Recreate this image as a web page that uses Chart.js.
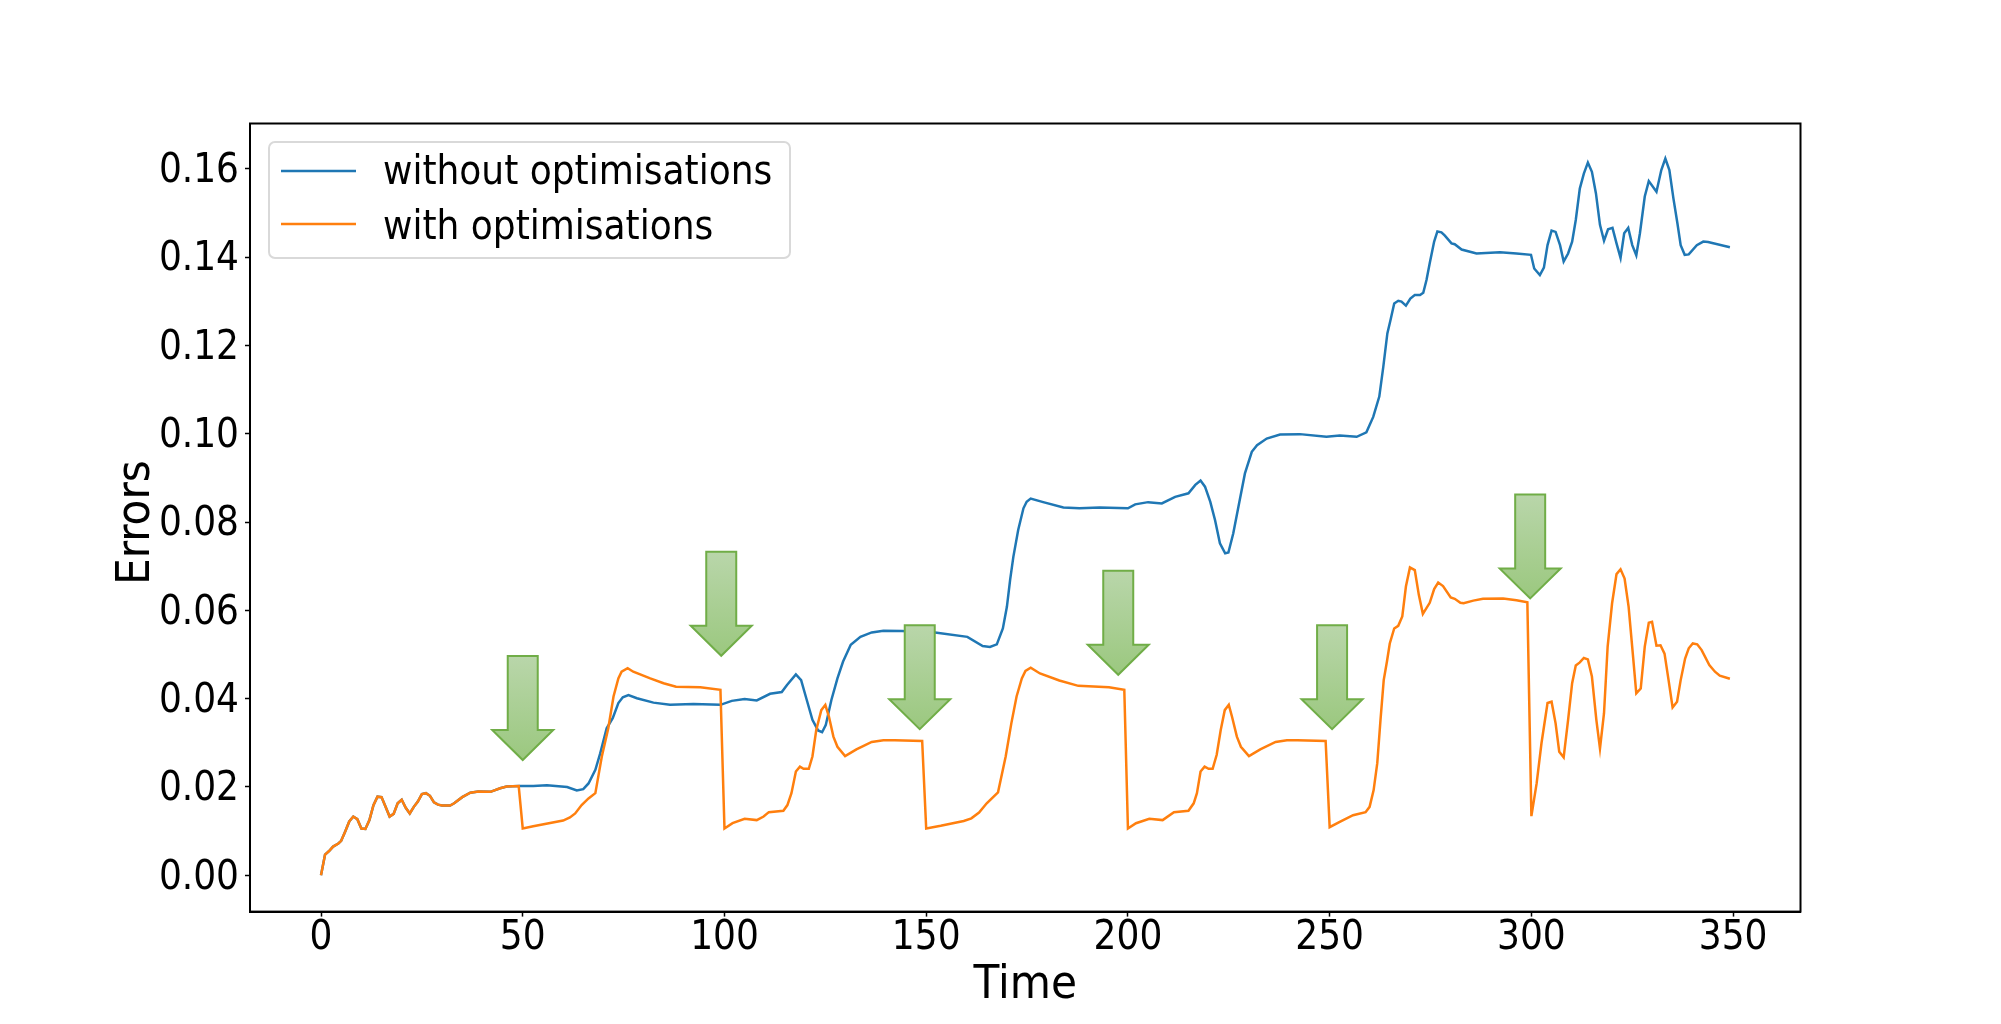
<!DOCTYPE html>
<html>
<head>
<meta charset="utf-8">
<title>Errors over time</title>
<script src="https://cdn.jsdelivr.net/npm/chart.js@4/dist/chart.umd.js"></script>
<style>
  html, body { margin: 0; padding: 0; background: #fff; }
  canvas { display: block; }
</style>
</head>
<body>
<canvas id="chart" width="2001" height="1024"></canvas>
<script>
const xTicks = [0, 50, 100, 150, 200, 250, 300, 350];
const yTicks = [0, 0.02, 0.04, 0.06, 0.08, 0.10, 0.12, 0.14, 0.16];

// both runs are the same until the first optimisation at t=49
const sharedTimes = [0, 1, 2, 3, 4.3, 5, 6, 7, 8, 9, 10, 11, 12, 13, 14, 15, 16, 17, 18, 19, 20, 21, 22, 23, 24, 25, 26, 27, 28, 29, 30, 32, 33, 35, 37, 39, 42, 44.4, 46, 49];
const sharedErrors = [0, .0047, .0055, .0065, .0072, .0078, .0099, .0122, .0133, .0127, .0106, .0105, .0125, .0159, .0178, .0177, .0155, .0133, .0139, .0163, .0171, .0153, .014, .0155, .0167, .0184, .0186, .018, .0165, .016, .0158, .0158, .0163, .0177, .0187, .019, .0189, .0197, .0201, .0202];

const blueTimes = [52.6, 56, 61, 63.4, 65, 66.3, 68, 69.2, 70.8, 72.3, 73.7, 74.8, 76.2, 78.3, 82.4, 86.5, 92.3, 99, 101.8, 105, 108, 111.3, 114.2, 115.5, 117.7, 119, 120.4, 121.8, 123.2, 124.2, 125.1, 126.5, 128, 129.4, 131.3, 133.7, 136.5, 139.4, 144, 152.2, 160.2, 164, 165.8, 167.5, 169, 170, 170.8, 171.6, 172.8, 174.1, 174.9, 175.9, 179, 184, 188, 193, 200, 201.8, 205, 208.4, 211.7, 215, 216.7, 218, 219.1, 220.4, 221.6, 222.8, 224.1, 224.9, 226.1, 227.4, 229, 230.7, 232, 234.4, 237.7, 242.6, 249.2, 252.5, 256.7, 259.1, 260.8, 262.3, 263.3, 264.3, 265.1, 266, 267, 267.8, 268.9, 270, 271.1, 272.4, 273.2, 274, 274.8, 275.9, 276.7, 277.7, 278.5, 280.2, 281, 282.7, 286.4, 292.2, 296.3, 299.9, 300.7, 302.1, 303.1, 304, 305, 306, 307.1, 308, 309.1, 310.1, 311, 312, 313, 314, 315, 316, 317, 318, 319, 320.1, 321.1, 322.1, 323, 324, 325, 326, 326.9, 328.1, 329.1, 331, 332.2, 333.2, 334.2, 335.2, 336.2, 337, 338, 339, 341, 342.6, 343.8, 349.2];
const blueErrors = [.0202, .0204, .02, .0192, .0195, .0208, .0239, .0276, .0333, .0356, .039, .0403, .0408, .0401, .0391, .0386, .0388, .0386, .0395, .0399, .0396, .0411, .0415, .0431, .0455, .0442, .0397, .0352, .0328, .0324, .034, .0397, .0446, .0484, .0522, .054, .055, .0554, .0553, .055, .054, .0519, .0517, .0523, .0559, .0608, .0669, .0721, .0782, .0831, .0846, .0853, .0845, .0833, .0831, .0833, .0831, .084, .0845, .0842, .0857, .0865, .0884, .0894, .088, .0846, .0804, .0752, .0729, .0731, .0774, .0835, .091, .0959, .0974, .0989, .0998, .0999, .0993, .0996, .0993, .1003, .1038, .1084, .1152, .1227, .1258, .1295, .1301, .1299, .129, .1306, .1314, .1314, .1319, .1348, .1386, .1435, .1458, .1456, .1449, .1431, .1429, .1417, .1408, .1411, .1408, .1405, .1374, .1359, .1376, .1427, .146, .1457, .1427, .139, .1408, .1435, .1484, .1555, .1589, .1614, .1593, .1544, .1473, .1437, .1463, .1466, .1431, .1398, .1454, .1466, .1427, .1404, .1454, .1537, .1572, .1548, .1597, .1623, .1597, .1533, .1476, .1427, .1405, .1406, .1427, .1435, .1434, .1422];

const orangeTimes = [50, 52.6, 60, 61.7, 63, 64.6, 66.3, 68, 69.6, 71.2, 72.5, 73.7, 74.5, 76, 77.4, 81.6, 84.9, 88, 94, 99, 100, 102, 105, 108, 109.7, 111, 114.6, 115.6, 116.6, 117.7, 118.7, 119.6, 120.9, 121.8, 122.75, 124, 125, 125.9, 127, 128, 129.9, 132.7, 136.5, 139.4, 142.2, 149, 150, 153.6, 159.3, 161.2, 163.1, 165, 167.8, 169.7, 171.1, 172.4, 173.7, 174.6, 175.9, 178.2, 183, 187.7, 195.3, 199.1, 200, 202, 205.3, 208.6, 211.4, 215, 216.3, 217.1, 218, 219, 220, 221, 222, 223, 224, 225, 225.8, 227, 228, 230, 232.8, 236.6, 239.4, 242, 249, 250, 252.5, 255.8, 258.9, 259.9, 260.9, 261.8, 262.6, 263.4, 264.2, 264.9, 266, 267, 268, 268.9, 269.9, 271.1, 272.1, 273.1, 274.8, 275.9, 276.9, 278.1, 280, 281, 282.4, 283.2, 285.6, 288, 293, 296.3, 299, 300, 301.3, 302.5, 304, 305, 306, 306.9, 308, 309.1, 310.1, 311, 312, 313, 314, 315, 316.1, 317, 318, 318.9, 320, 321.1, 322.1, 323.1, 324.1, 325.2, 326, 327.1, 328.1, 329.1, 329.9, 331, 332, 333, 334, 335, 336.1, 337, 338.1, 339, 340, 341.1, 342.2, 344.1, 345.5, 346.7, 349.2];
const orangeErrors = [.0106, .0111, .0124, .0131, .014, .0159, .0174, .0186, .0269, .0333, .0405, .0446, .0461, .0469, .0461, .0446, .0435, .0427, .0426, .042, .0106, .0118, .0128, .0125, .0133, .0143, .0146, .0159, .0186, .0235, .0246, .0241, .0241, .0269, .0329, .0374, .0386, .0359, .0314, .0291, .027, .0285, .0302, .0306, .0306, .0304, .0106, .0112, .0123, .0129, .0142, .0163, .0188, .0269, .0344, .0405, .0446, .0463, .047, .0457, .0441, .0429, .0426, .042, .0106, .0118, .0128, .0125, .0143, .0146, .0163, .0186, .0235, .0246, .0241, .0241, .0273, .0329, .0374, .0386, .0359, .0314, .0291, .027, .0285, .0302, .0306, .0306, .0304, .0109, .0121, .0136, .0143, .0155, .0193, .0254, .0352, .0442, .0484, .0525, .0559, .0565, .0586, .0654, .0697, .0691, .0635, .0592, .0617, .0648, .0663, .0655, .0629, .0626, .0617, .0616, .0622, .0626, .0627, .0623, .0618, .0134, .0208, .0299, .039, .0393, .0344, .028, .0267, .0352, .0435, .0475, .0482, .0492, .0489, .045, .0352, .0287, .0367, .0518, .0616, .0682, .0693, .0672, .0608, .0495, .0412, .0423, .0518, .0572, .0574, .052, .0521, .0502, .0442, .038, .0393, .0442, .0491, .0514, .0525, .0523, .051, .0476, .0461, .0452, .0445];

// where the green arrows point
const arrowTimes = [50, 99.2, 148.4, 197.6, 250.6, 299.7];
const arrowErrors = [.0261, .0497, .0331, .0454, .0331, .0627];

const toPoints = (xs, ys) => xs.map((x, i) => ({ x, y: ys[i] }));

// the reference text is a little taller than wide, the condensed face gets close
const fontFamily = '"DejaVu Sans Condensed", "DejaVu Sans", sans-serif';

const framePlugin = {
  id: 'frame',
  afterDatasetsDraw(chart) {
    const { ctx, chartArea: a, scales } = chart;
    ctx.save();
    ctx.lineWidth = 2;
    ctx.strokeStyle = '#70ad47';
    arrowTimes.forEach((t, i) => {
      const x = scales.x.getPixelForValue(t);
      const y = scales.y.getPixelForValue(arrowErrors[i]);
      const top = y - 104;
      const g = ctx.createLinearGradient(0, top, 0, y);
      g.addColorStop(0, '#b9d6aa');
      g.addColorStop(1, '#9bc87f');
      ctx.fillStyle = g;
      ctx.beginPath();
      ctx.moveTo(x - 15, top);
      ctx.lineTo(x + 15, top);
      ctx.lineTo(x + 15, y - 30);
      ctx.lineTo(x + 30.5, y - 30);
      ctx.lineTo(x, y);
      ctx.lineTo(x - 30.5, y - 30);
      ctx.lineTo(x - 15, y - 30);
      ctx.closePath();
      ctx.fill();
      ctx.stroke();
    });
    ctx.strokeStyle = '#000';
    ctx.lineWidth = 2;
    ctx.strokeRect(a.left, a.top, a.right - a.left, a.bottom - a.top);

    // legend box, matplotlib style
    ctx.fillStyle = 'rgba(255,255,255,0.8)';
    ctx.strokeStyle = '#d9d9d9';
    ctx.lineWidth = 2;
    ctx.beginPath();
    ctx.roundRect(269, 142, 521, 116, 6);
    ctx.fill();
    ctx.stroke();
    ctx.font = '40px ' + fontFamily;
    ctx.textBaseline = 'middle';
    chart.data.datasets.forEach((ds, i) => {
      const y = 171 + i * 53;
      ctx.strokeStyle = ds.borderColor;
      ctx.lineWidth = 2.5;
      ctx.beginPath();
      ctx.moveTo(281, y);
      ctx.lineTo(356, y);
      ctx.stroke();
      ctx.fillStyle = '#000';
      ctx.fillText(ds.label, 383, 173.5 + i * 55);
    });
    ctx.restore();
  },
};

new Chart(document.getElementById('chart'), {
  type: 'line',
  data: {
    datasets: [
      {
        label: 'without optimisations',
        data: toPoints(sharedTimes.concat(blueTimes), sharedErrors.concat(blueErrors)),
        borderColor: '#1f77b4', borderWidth: 2.5, pointRadius: 0, tension: 0, order: 2,
      },
      {
        label: 'with optimisations',
        data: toPoints(sharedTimes.concat(orangeTimes), sharedErrors.concat(orangeErrors)),
        borderColor: '#ff7f0e', borderWidth: 2.5, pointRadius: 0, tension: 0, order: 1,
      },
    ],
  },
  options: {
    responsive: false,
    animation: false,
    layout: { padding: { top: 123.5, right: 200.5, left: 0, bottom: 0 } },
    plugins: { legend: { display: false }, tooltip: { enabled: false } },
    scales: {
      x: {
        type: 'linear',
        min: -17.6,
        max: 366.7,
        afterFit: s => { s.height = 112.4; },
        afterBuildTicks: s => { s.ticks = xTicks.map(value => ({ value })); },
        border: { color: '#000', width: 2 },
        grid: { drawOnChartArea: false, color: '#000', tickLength: 5, tickWidth: 1.5 },
        ticks: { color: '#000', padding: -2, autoSkip: false, maxRotation: 0, font: { family: fontFamily, size: 40 }, callback: v => String(v) },
        title: { display: true, text: 'Time', color: '#000', font: { family: fontFamily, size: 47 }, padding: { top: 0, bottom: 10 } },
      },
      y: {
        min: -0.00822,
        max: 0.17024,
        afterFit: s => { s.width = 250; },
        afterBuildTicks: s => { s.ticks = yTicks.map(value => ({ value })); },
        // title sits a few px below the axis centre in the reference.
        // afterUpdate runs more than once, so only wrap drawTitle the first time
        afterUpdate: s => {
          if (s.titleShifted) return;
          s.titleShifted = true;
          const drawTitle = s.drawTitle;
          s.drawTitle = () => {
            s.ctx.save();
            s.ctx.translate(0, 5);
            drawTitle.call(s);
            s.ctx.restore();
          };
        },
        border: { color: '#000', width: 2 },
        grid: { drawOnChartArea: false, color: '#000', tickLength: 5, tickWidth: 1.5 },
        ticks: { color: '#000', padding: 6, labelOffset: 3, autoSkip: false, font: { family: fontFamily, size: 40 }, callback: v => v.toFixed(2) },
        title: { display: true, text: 'Errors', color: '#000', font: { family: fontFamily, size: 47 }, padding: { top: 109, bottom: 0 } },
      },
    },
  },
  plugins: [framePlugin],
});
</script>
</body>
</html>
